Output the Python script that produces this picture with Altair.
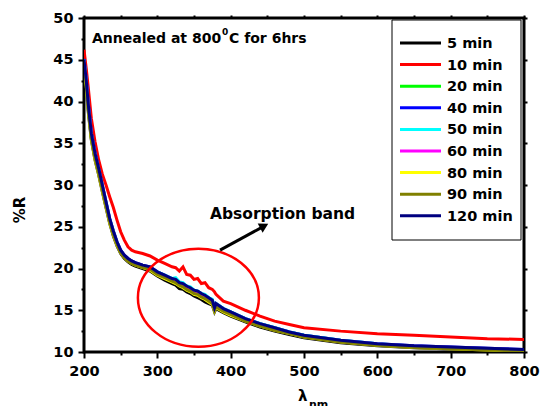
import altair as alt
import pandas as pd

# ---------------- data ----------------
wavelength = [200, 203, 206, 210, 215, 220, 225, 230, 235, 240, 245, 250, 255, 260, 265,
              270, 280, 290, 300, 310, 320, 325, 330, 335, 340, 345, 350, 355, 360, 365,
              370, 375, 378, 380, 390, 400, 420, 440, 460, 480, 500, 550, 600, 650, 700,
              750, 800]

series_names = ["5 min", "10 min", "20 min", "40 min", "50 min", "60 min", "80 min", "90 min", "120 min"]
series_colors = ["#000000", "#FF0000", "#00FF00", "#0000FF", "#00FFFF", "#FF00FF", "#FFFF00", "#808000", "#000080"]

r_5min = [44.6, 41.8, 38.6, 35.4, 33.0, 31.2, 29.2, 27.3, 25.4, 23.9, 22.7, 21.8, 21.2, 20.8, 20.5,
          20.3, 20.0, 19.7, 19.1, 18.6, 18.2, 18.0, 17.6, 17.5, 17.2, 17.0, 16.7, 16.5, 16.3, 16.0,
          15.8, 15.6, 14.8, 15.2, 14.7, 14.3, 13.6, 13.0, 12.5, 12.1, 11.7, 11.1, 10.75, 10.5, 10.35,
          10.2, 10.05]
r_10min = [46.2, 44.0, 41.5, 38.0, 35.2, 33.0, 31.3, 30.0, 28.6, 27.3, 25.8, 24.4, 23.4, 22.6, 22.2,
           22.0, 21.8, 21.5, 21.0, 20.6, 20.2, 20.1, 19.7, 20.2, 19.3, 19.2, 18.7, 18.8, 18.2, 18.3,
           17.7, 17.5, 17.2, 16.9, 16.1, 15.8, 15.0, 14.3, 13.7, 13.3, 12.9, 12.5, 12.2, 12.0, 11.8,
           11.6, 11.5]
r_20min = [44.9, 42.2, 39.1, 35.8, 33.4, 31.6, 29.6, 27.7, 25.7, 24.2, 23.0, 22.0, 21.4, 21.0, 20.7,
           20.5, 20.2, 20.0, 19.4, 19.0, 18.6, 18.4, 18.1, 17.9, 17.6, 17.4, 17.1, 17.0, 16.7, 16.5,
           16.2, 15.9, 15.1, 15.5, 15.0, 14.6, 13.8, 13.2, 12.7, 12.3, 11.9, 11.3, 10.9, 10.6, 10.45,
           10.3, 10.15]
r_40min = [45.1, 42.7, 39.7, 36.3, 33.9, 32.0, 30.0, 28.0, 26.0, 24.5, 23.2, 22.2, 21.6, 21.2, 20.9,
           20.7, 20.4, 20.2, 19.6, 19.2, 18.8, 18.7, 18.3, 18.2, 17.9, 17.7, 17.4, 17.3, 17.0, 16.8,
           16.5, 16.2, 15.4, 15.8, 15.2, 14.8, 14.0, 13.4, 12.9, 12.4, 12.0, 11.4, 11.0, 10.75, 10.6,
           10.45, 10.3]
r_50min = [45.0, 42.5, 39.4, 36.1, 33.7, 31.9, 29.9, 27.9, 25.9, 24.4, 23.1, 22.1, 21.5, 21.1, 20.8,
           20.6, 20.3, 20.1, 19.6, 19.2, 18.8, 18.9, 18.4, 18.3, 17.9, 17.8, 17.4, 17.3, 17.0, 16.9,
           16.5, 16.3, 15.4, 15.8, 15.2, 14.8, 14.0, 13.4, 12.9, 12.4, 12.0, 11.4, 11.0, 10.7, 10.55,
           10.4, 10.25]
r_60min = [44.9, 42.4, 39.3, 36.0, 33.6, 31.8, 29.8, 27.8, 25.8, 24.3, 23.0, 22.1, 21.5, 21.1, 20.8,
           20.6, 20.3, 20.1, 19.5, 19.1, 18.7, 18.6, 18.2, 18.1, 17.8, 17.6, 17.3, 17.2, 16.9, 16.7,
           16.4, 16.1, 15.3, 15.7, 15.1, 14.7, 13.9, 13.3, 12.8, 12.3, 11.9, 11.35, 10.95, 10.7, 10.55,
           10.4, 10.25]
r_80min = [44.8, 41.9, 38.8, 35.5, 33.1, 31.3, 29.3, 27.4, 25.5, 24.0, 22.8, 21.9, 21.3, 20.9, 20.6,
           20.4, 20.1, 19.8, 19.2, 18.8, 18.4, 18.2, 17.9, 17.7, 17.4, 17.2, 16.9, 16.8, 16.5, 16.3,
           16.0, 15.7, 14.9, 15.3, 14.8, 14.4, 13.7, 13.1, 12.6, 12.2, 11.8, 11.2, 10.8, 10.55, 10.4,
           10.25, 10.1]
r_90min = [44.7, 42.0, 38.9, 35.6, 33.2, 31.4, 29.4, 27.5, 25.6, 24.1, 22.9, 21.9, 21.3, 20.9, 20.6,
           20.4, 20.1, 19.9, 19.3, 18.9, 18.5, 18.3, 18.0, 17.8, 17.5, 17.3, 17.0, 16.9, 16.6, 16.4,
           16.1, 15.8, 15.0, 15.4, 14.9, 14.5, 13.7, 13.1, 12.6, 12.2, 11.8, 11.2, 10.8, 10.55, 10.4,
           10.25, 10.1]
r_120min = [45.0, 42.6, 39.5, 36.2, 33.8, 32.0, 30.0, 28.0, 26.0, 24.5, 23.2, 22.2, 21.6, 21.2, 20.9,
            20.7, 20.4, 20.2, 19.6, 19.2, 18.8, 18.7, 18.3, 18.2, 17.9, 17.7, 17.4, 17.3, 17.0, 16.8,
            16.5, 16.2, 15.3, 15.8, 15.2, 14.8, 14.0, 13.4, 12.9, 12.4, 12.0, 11.4, 11.0, 10.75, 10.6,
            10.45, 10.3]

series_values = [r_5min, r_10min, r_20min, r_40min, r_50min, r_60min, r_80min, r_90min, r_120min]

x_major = [200, 300, 400, 500, 600, 700, 800]
x_minor = [250, 350, 450, 550, 650, 750]
x_top = [200, 250, 300, 350, 400, 450, 500, 550, 600, 650, 700, 750, 800]
y_major = [10, 15, 20, 25, 30, 35, 40, 45, 50]
y_minor = [12.5, 17.5, 22.5, 27.5, 32.5, 37.5, 42.5, 47.5]

# annotation anchors (data coordinates)
ellipse_center = {"x": [356], "y": [16.5]}
arrow_line = {"x1": [385.5], "y1": [22.2], "x2": [445.0], "y2": [25.05]}
arrow_head = {"x": [445.7], "y": [25.09]}

title_text = "Annealed at 800"
title_sup = "0"
title_rest = "C for 6hrs"
band_text = "Absorption band"
y_title = "%R"
x_title = "λ"
x_title_sub = "nm"

# ---------------- build ----------------
FONT = "DejaVu Sans"
W, H = 440, 334

rows = []
for name, vals in zip(series_names, series_values):
    for wl, v in zip(wavelength, vals):
        rows.append({"wl": wl, "R": v, "series": name})
df = pd.DataFrame(rows)

xscale = alt.Scale(domain=[200, 800], nice=False, zero=False)
yscale = alt.Scale(domain=[10, 50], nice=False, zero=False)

common_lab = dict(labelFont=FONT, labelFontSize=14.5, labelFontWeight="bold", labelColor="black",
                  labelFlush=False, labelOverlap=False)

ax_x_major = alt.Axis(orient="bottom", values=x_major, format="d", tickSize=6, tickWidth=2,
                      tickColor="black", domain=False, grid=False, labelPadding=6, title=None,
                      **common_lab)
ax_y_major = alt.Axis(orient="left", values=y_major, format="d", tickSize=6, tickWidth=2,
                      tickColor="black", domain=False, grid=False, labelPadding=5, title=None,
                      **common_lab)
ax_x_minor = alt.Axis(orient="bottom", values=x_minor, tickSize=3, tickWidth=2, tickColor="black",
                      domain=False, grid=False, labels=False, title=None)
ax_y_minor = alt.Axis(orient="left", values=y_minor, tickSize=3, tickWidth=2, tickColor="black",
                      domain=False, grid=False, labels=False, title=None)
ax_x_top = alt.Axis(orient="top", values=x_top, tickSize=3, tickWidth=2, tickColor="black",
                    domain=False, grid=False, labels=False, title=None)
ax_y_right = alt.Axis(orient="right", values=y_major, tickSize=3, tickWidth=2, tickColor="black",
                      domain=False, grid=False, labels=False, title=None)

lines = alt.Chart(df).mark_line(strokeWidth=3, clip=True).encode(
    x=alt.X("wl:Q", scale=xscale, axis=ax_x_major),
    y=alt.Y("R:Q", scale=yscale, axis=ax_y_major),
    color=alt.Color("series:N", scale=alt.Scale(domain=series_names, range=series_colors), legend=None),
    order=alt.Order("wl:Q"),
)

ellipse_path = "M-1,0A1,0.81,0,1,1,1,0A1,0.81,0,1,1,-1,0Z"
ellipse = alt.Chart(pd.DataFrame(ellipse_center)).mark_point(
    shape=ellipse_path, size=14641, color="#FF0000", strokeWidth=2.5, filled=False, opacity=1
).encode(
    x=alt.X("x:Q", axis=ax_x_minor),
    y=alt.Y("y:Q", axis=ax_y_minor),
)

arrow = alt.Chart(pd.DataFrame(arrow_line)).mark_rule(strokeWidth=3, color="black").encode(
    x=alt.X("x1:Q", axis=ax_x_top),
    y=alt.Y("y1:Q", axis=ax_y_right),
    x2="x2:Q",
    y2="y2:Q",
)

head = alt.Chart(pd.DataFrame(arrow_head)).mark_point(
    shape="triangle-up", size=110, angle=62, filled=True, color="black", opacity=1
).encode(
    x=alt.X("x:Q", axis=None),
    y=alt.Y("y:Q", axis=None),
)

one = pd.DataFrame({"k": [0]})


def label(text, x, y, size, align="left", baseline="alphabetic", angle=0):
    kw = dict(text=text, font=FONT, fontSize=size, fontWeight="bold", color="black",
              align=align, baseline=baseline)
    if angle:
        kw["angle"] = angle
    return alt.Chart(one).mark_text(**kw).encode(x=alt.value(x), y=alt.value(y))


texts = [
    label(title_text, 8, 25, 14),
    label(title_sup, 138, 17, 9),
    label(title_rest, 145, 25, 14),
    label(band_text, 126, 201, 15.5),
    label(y_title, -64, 192, 15, align="center", baseline="middle", angle=270),
    label(x_title, 214, 383, 15),
    label(x_title_sub, 225, 390, 11),
]

# legend box (drawn manually)
leg_box = alt.Chart(one).mark_rect(fill="white", stroke="black", strokeWidth=1).encode(
    x=alt.value(308), x2=alt.value(437), y=alt.value(2), y2=alt.value(222)
)
leg_layers = [leg_box]
for i, (name, col) in enumerate(zip(series_names, series_colors)):
    yy = 25 + i * 21.6
    leg_layers.append(
        alt.Chart(one).mark_rule(strokeWidth=3, color=col).encode(
            x=alt.value(316), x2=alt.value(357), y=alt.value(yy), y2=alt.value(yy)
        )
    )
    leg_layers.append(label(name, 363, yy + 1, 14.5, baseline="middle"))

chart = alt.layer(lines, ellipse, arrow, head, *texts, *leg_layers).resolve_axis(
    x="independent", y="independent"
).properties(
    width=W, height=H,
    autosize=alt.AutoSizeParams(type="none"),
    padding={"left": 84, "top": 18, "right": 16, "bottom": 54},
).configure_view(stroke="black", strokeWidth=3)

chart.save("out.html", embed_options={"renderer": "svg", "actions": False})
